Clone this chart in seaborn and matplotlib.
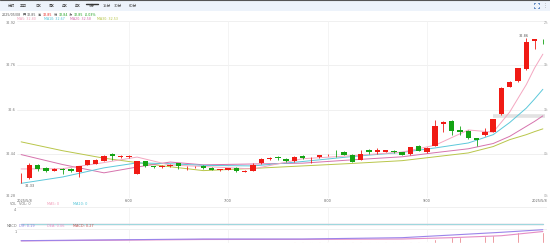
import matplotlib
matplotlib.use("Agg")
import matplotlib.pyplot as plt
from matplotlib.patches import Rectangle
from matplotlib.lines import Line2D
import seaborn as sns
import numpy as np
import pandas as pd

sns.set_theme(style="white")
plt.rcParams['font.family'] = ['DejaVu Sans', 'Noto Sans CJK SC']

# ---------------- data ----------------
tabs = ["分时", "五日", "日K", "周K", "月K", "年K", "5分", "15分", "30分", "60分"]
selected_tab = "5分"

opens = [32.370, 32.352, 32.400, 32.390, 32.379, 32.385, 32.385, 32.373, 32.400, 32.404,
         32.415, 32.440, 32.430, 32.430, 32.367, 32.412, 32.394, 32.393, 32.394, 32.405,
         32.394, 32.391, 32.396, 32.390, 32.381, 32.383, 32.390, 32.375, 32.379, 32.406,
         32.421, 32.430, 32.421, 32.412, 32.433, 32.427, 32.428, 32.434, 32.451, 32.447,
         32.436, 32.418, 32.452, 32.445, 32.447, 32.451, 32.446, 32.439, 32.467, 32.446,
         32.469, 32.548, 32.559, 32.526, 32.524, 32.496, 32.507, 32.519, 32.582, 32.683,
         32.702, 32.745, 32.846, 32.855]
highs = [32.372, 32.405, 32.402, 32.392, 32.387, 32.387, 32.387, 32.396, 32.418, 32.421,
         32.436, 32.442, 32.435, 32.434, 32.414, 32.414, 32.397, 32.398, 32.402, 32.407,
         32.397, 32.394, 32.398, 32.391, 32.386, 32.389, 32.392, 32.381, 32.406, 32.424,
         32.428, 32.432, 32.423, 32.431, 32.435, 32.430, 32.437, 32.438, 32.453, 32.449,
         32.440, 32.455, 32.457, 32.461, 32.455, 32.454, 32.448, 32.465, 32.470, 32.465,
         32.561, 32.558, 32.561, 32.542, 32.526, 32.498, 32.533, 32.566, 32.680, 32.703,
         32.751, 32.857, 32.856, 32.856]
lows = [32.333, 32.348, 32.378, 32.375, 32.377, 32.367, 32.374, 32.357, 32.398, 32.402,
        32.413, 32.418, 32.424, 32.426, 32.365, 32.392, 32.388, 32.390, 32.392, 32.385,
        32.382, 32.388, 32.386, 32.380, 32.379, 32.381, 32.374, 32.373, 32.377, 32.404,
        32.416, 32.416, 32.410, 32.410, 32.421, 32.408, 32.426, 32.432, 32.430, 32.434,
        32.409, 32.416, 32.440, 32.440, 32.445, 32.443, 32.434, 32.437, 32.449, 32.444,
        32.467, 32.517, 32.509, 32.509, 32.494, 32.467, 32.503, 32.517, 32.580, 32.681,
        32.700, 32.743, 32.818, 32.836]
closes = [32.370, 32.400, 32.385, 32.379, 32.385, 32.382, 32.376, 32.394, 32.416, 32.419,
          32.433, 32.433, 32.431, 32.431, 32.412, 32.394, 32.392, 32.395, 32.400, 32.396,
          32.395, 32.392, 32.388, 32.382, 32.384, 32.387, 32.376, 32.379, 32.400, 32.421,
          32.425, 32.423, 32.412, 32.429, 32.423, 32.428, 32.435, 32.435, 32.449, 32.436,
          32.411, 32.440, 32.446, 32.452, 32.452, 32.445, 32.436, 32.463, 32.451, 32.462,
          32.542, 32.556, 32.521, 32.517, 32.496, 32.491, 32.519, 32.566, 32.679, 32.701,
          32.749, 32.843, 32.855, 32.854]

ma_idx = [0, 5, 10, 14, 18, 22, 28, 34, 40, 46, 50, 54, 57, 59, 61, 62, 63]
ma5 = [32.385, 32.386, 32.408, 32.428, 32.399, 32.394, 32.385, 32.422, 32.433, 32.446,
       32.471, 32.526, 32.518, 32.591, 32.690, 32.750, 32.800]
ma10 = [32.333, 32.356, 32.389, 32.407, 32.404, 32.398, 32.396, 32.412, 32.430, 32.445,
        32.461, 32.479, 32.509, 32.553, 32.605, 32.638, 32.673]
ma20 = [32.437, 32.401, 32.371, 32.392, 32.410, 32.400, 32.403, 32.406, 32.418, 32.429,
        32.444, 32.458, 32.477, 32.503, 32.539, 32.557, 32.577]
ma30 = [32.483, 32.451, 32.424, 32.408, 32.393, 32.379, 32.387, 32.396, 32.405, 32.415,
        32.429, 32.443, 32.466, 32.491, 32.509, 32.520, 32.530]

price_ticks = [32.28, 32.44, 32.6, 32.76, 32.92]
prev_close = 32.28
time_labels = ["2025/5/8", "6:00", "7:00", "8:00", "9:00", "2025/5/8"]
time_pos = [0, 13, 25, 37, 49, 63]

volume = [0] * 64
vol_ma_idx = [0, 63]
vol_ma5 = [0, 0]
vol_ma10 = [0, 0]

macd_idx = [0, 22, 34, 46, 52, 58, 63]
dif = [0.033, 0.057, 0.057, 0.076, 0.114, 0.153, 0.190]
dea = [0.030, 0.050, 0.052, 0.057, 0.076, 0.104, 0.164]
macd_bar_idx = list(range(33, 64))
macd_bars = [0.02, 0.02, 0.02, 0.02, 0.02, 0.02, 0.02, 0.02, 0.02, 0.02,
             0.02, 0.02, 0.02, 0.02, 0.02, 0.02, 0.02, 0.06, 0.09, 0.09,
             0.09, 0.09, 0.09, 0.10, 0.114, 0.139, 0.147, 0.161, 0.171, 0.161, 0.161]

header_date = "2025/05/08"
header_vals = [("开", "32.85", "#555555"), ("高", "32.85", "#e8231e"),
               ("低", "32.84", "#1a9e1a"), ("收", "32.85", "#1a9e1a")]
header_pct = "-0.03%"
ma_legend = [("MA5: 32.80", "#f29bb8"), ("MA10: 32.67", "#4fc3d6"),
             ("MA20: 32.58", "#d366a8"), ("MA30: 32.53", "#b3c23f")]
vol_legend = [("VOL: 0", "#777777"), ("MA5: 0", "#f29bb8"), ("MA10: 0", "#4fc3d6")]
macd_legend = [("DIF: 0.19", "#8f7de0"), ("DEA: 0.06", "#e58cc4"), ("MACD: 0.27", "#c0504d")]

# ---------------- figure ----------------
W, H = 550, 243
FS = 2.5
UP, DOWN = "#f01a14", "#14a314"
GRID = "#eeeeee"

fig = plt.figure(figsize=(5.5, 2.43), dpi=100)
fig.patch.set_facecolor("white")


def px_axes(x0, y0, x1, y1):
    a = fig.add_axes([x0 / W, 1 - y1 / H, (x1 - x0) / W, (y1 - y0) / H])
    a.set_facecolor("none")
    for s in a.spines.values():
        s.set_visible(False)
    a.set_xticks([])
    a.set_yticks([])
    return a


def ftext(x, y, s, **kw):
    kw.setdefault("fontsize", FS)
    kw.setdefault("va", "center")
    return fig.text(x / W, 1 - y / H, s, **kw)


def fline(xs, ys, **kw):
    fig.lines.append(Line2D([v / W for v in xs], [1 - v / H for v in ys],
                            transform=fig.transFigure, **kw))


# toolbar band
fig.patches.append(Rectangle((0, 1 - 11 / H), 1, 11 / H, transform=fig.transFigure,
                             facecolor="#edf3fb", edgecolor="none", zorder=0))
fline([0, 550], [0.4, 0.4], color="#555555", lw=0.8)
tab_x = [11.7, 23.3, 38.3, 51.7, 65, 78.3, 91.7, 106.7, 118.3, 133.3]
for tx, lab in zip(tab_x, tabs):
    ftext(tx, 6.3, lab, ha="center", color="#444444", fontsize=2.6)
    if lab == selected_tab:
        fline([tx - 6, tx + 6], [4.3, 4.3], color="#333333", lw=1.0)

# fullscreen icon (four corner brackets) and menu dots
cx, cy, r, k = 536.5, 5.5, 2.6, 1.2
icon_col = "#3b6fb6"
for sx in (-1, 1):
    for sy in (-1, 1):
        fline([cx + sx * r, cx + sx * r, cx + sx * (r - k)],
              [cy + sy * (r - k), cy + sy * r, cy + sy * r], color=icon_col, lw=0.6)
ftext(545, 5.5, "⋮", ha="center", color="#888888", fontsize=3.4)

# header line 1
renderer = fig.canvas.get_renderer()
segs = [(header_date, "#555555")]
for kk, v, c in header_vals:
    segs.append((kk, "#555555"))
    segs.append((v, c))
segs.append((header_pct, "#1a9e1a"))
x = 2
for s, c in segs:
    t = ftext(x, 14.6, s, ha="left", color=c, fontsize=2.3)
    bb = t.get_window_extent(renderer)
    x += bb.width + 1.4

# header line 2 (MA legend)
for (s, c), lx in zip(ma_legend, [17, 43.5, 70, 97]):
    ftext(lx, 19.2, s, ha="left", color=c, fontsize=2.3)

# ---------------- main price panel ----------------
ax = px_axes(17, 21, 547, 198)
ax.set_xlim(-0.5, 63.5)
ax.set_ylim(32.28, 32.92)

for t in price_ticks:
    ax.axhline(t, color=GRID, lw=0.6, zorder=0)
for p in time_pos[1:-1]:
    ax.axvline(p, color="#f2f2f2", lw=0.6, zorder=0)

# current price band
ax.hlines(32.576, 57.0, 63.3, color="#e2e2e2", lw=2.6, zorder=1)

df = pd.DataFrame({"open": opens, "high": highs, "low": lows, "close": closes})
df["idx"] = np.arange(len(df))
df["up"] = df["close"] >= df["open"]
df["color"] = np.where(df["up"], UP, DOWN)
df["bottom"] = df[["open", "close"]].min(axis=1)
df["height"] = (df["close"] - df["open"]).abs().clip(lower=0.0022)

# moving average lines via seaborn
ma_df = pd.DataFrame({"idx": ma_idx, "MA5": ma5, "MA10": ma10, "MA20": ma20, "MA30": ma30})
for name, col in [("MA30", "#b9c64a"), ("MA20", "#d673ad"), ("MA10", "#5cc8da"), ("MA5", "#f4a7c1")]:
    sns.lineplot(data=ma_df, x="idx", y=name, ax=ax, color=col, lw=0.7, zorder=2)

ax.vlines(df["idx"], df["low"], df["high"], colors=df["color"], lw=0.6, zorder=3)
ax.bar(df["idx"], df["height"], bottom=df["bottom"], width=0.66, color=df["color"],
       linewidth=0, zorder=4)

ax.set_xlim(-0.5, 63.5)
ax.set_ylim(32.28, 32.92)
ax.set_xlabel("")
ax.set_ylabel("")
ax.set_xticks([])
ax.set_yticks([])

# max / min labels
imax = int(df["high"].idxmax())
imin = int(df["low"].idxmin())
ax.text(imax - 0.3, df["high"][imax] + 0.003, f"{df['high'][imax]:.2f}", ha="center",
        va="bottom", fontsize=FS, color="#555555", zorder=5)
ax.text(imin + 1, df["low"][imin] - 0.002, f"{df['low'][imin]:.2f}", ha="center",
        va="top", fontsize=FS, color="#555555", zorder=5)

# left price labels and right percentage labels
ytr = ax.get_yaxis_transform()
for t in price_ticks:
    va = "top" if t == price_ticks[-1] else ("bottom" if t == price_ticks[0] else "center")
    ax.text(-0.003, t, f"{t:g}", transform=ytr, ha="right", va=va, fontsize=FS,
            color="#777777", clip_on=False)
    pct = (t - prev_close) / prev_close * 100
    ax.text(1.002, t, f"{pct:.0f}%", transform=ytr, ha="right", va=va, fontsize=2.2,
            color="#999999", clip_on=False)

# time labels
xtr = ax.get_xaxis_transform()
ylab = -3.0 / 177
for p, lab in zip(time_pos, time_labels):
    ha = "left" if p == time_pos[0] else ("right" if p == time_pos[-1] else "center")
    xp = p - 0.5 if ha == "left" else (p + 0.6 if ha == "right" else p)
    ax.text(xp, ylab, lab, transform=xtr, ha=ha, va="center", fontsize=FS,
            color="#666666", clip_on=False)

# ---------------- volume panel ----------------
axv = px_axes(17, 207, 547, 226)
axv.set_xlim(-0.5, 63.5)
axv.set_ylim(-0.4, 4)
axv.axhline(4, color=GRID, lw=0.6, zorder=0)
for p in time_pos[1:-1]:
    axv.axvline(p, color="#f2f2f2", lw=0.6, zorder=0)
axv.bar(np.arange(len(volume)), volume, width=0.66, color="#cccccc")
vdf = pd.DataFrame({"idx": vol_ma_idx, "ma5": vol_ma5, "ma10": vol_ma10})
sns.lineplot(data=vdf, x="idx", y="ma5", ax=axv, color="#f4a7c1", lw=0.9)
sns.lineplot(data=vdf, x="idx", y="ma10", ax=axv, color="#9fd8de", lw=0.9)
axv.set_xlim(-0.5, 63.5)
axv.set_ylim(-0.4, 4)
axv.set_xlabel("")
axv.set_ylabel("")
axv.set_xticks([])
axv.set_yticks([])

ftext(17, 203.7, "VOL", ha="right", color="#777777")
for (s, c), lx in zip(vol_legend, [19, 46.7, 73.3]):
    ftext(lx, 203.7, s, ha="left", color=c)
ftext(16.5, 209.5, "4", ha="right", color="#777777")

# ---------------- MACD panel ----------------
axm = px_axes(17, 229, 547, 243)
axm.set_xlim(-0.5, 63.5)
axm.set_ylim(0, 0.2)
axm.axhline(0.2, color=GRID, lw=0.6, zorder=0)
for p in time_pos[1:-1]:
    axm.axvline(p, color="#f2f2f2", lw=0.6, zorder=0)
axm.bar(macd_bar_idx, macd_bars, width=0.18, color="#e25f68", zorder=2)
mdf = pd.DataFrame({"idx": macd_idx, "DIF": dif, "DEA": dea})
sns.lineplot(data=mdf, x="idx", y="DEA", ax=axm, color="#e58cc4", lw=0.8, zorder=3)
sns.lineplot(data=mdf, x="idx", y="DIF", ax=axm, color="#9b84ea", lw=0.8, zorder=3)
axm.set_xlim(-0.5, 63.5)
axm.set_ylim(0, 0.2)
axm.set_xlabel("")
axm.set_ylabel("")
axm.set_xticks([])
axm.set_yticks([])

ftext(17, 226.2, "MACD", ha="right", color="#777777")
for (s, c), lx in zip(macd_legend, [19, 46.7, 73.3]):
    ftext(lx, 226.2, s, ha="left", color=c)
ftext(16.5, 231.5, "1", ha="right", color="#777777")

fig.savefig("out.png", dpi=100, facecolor="white")
